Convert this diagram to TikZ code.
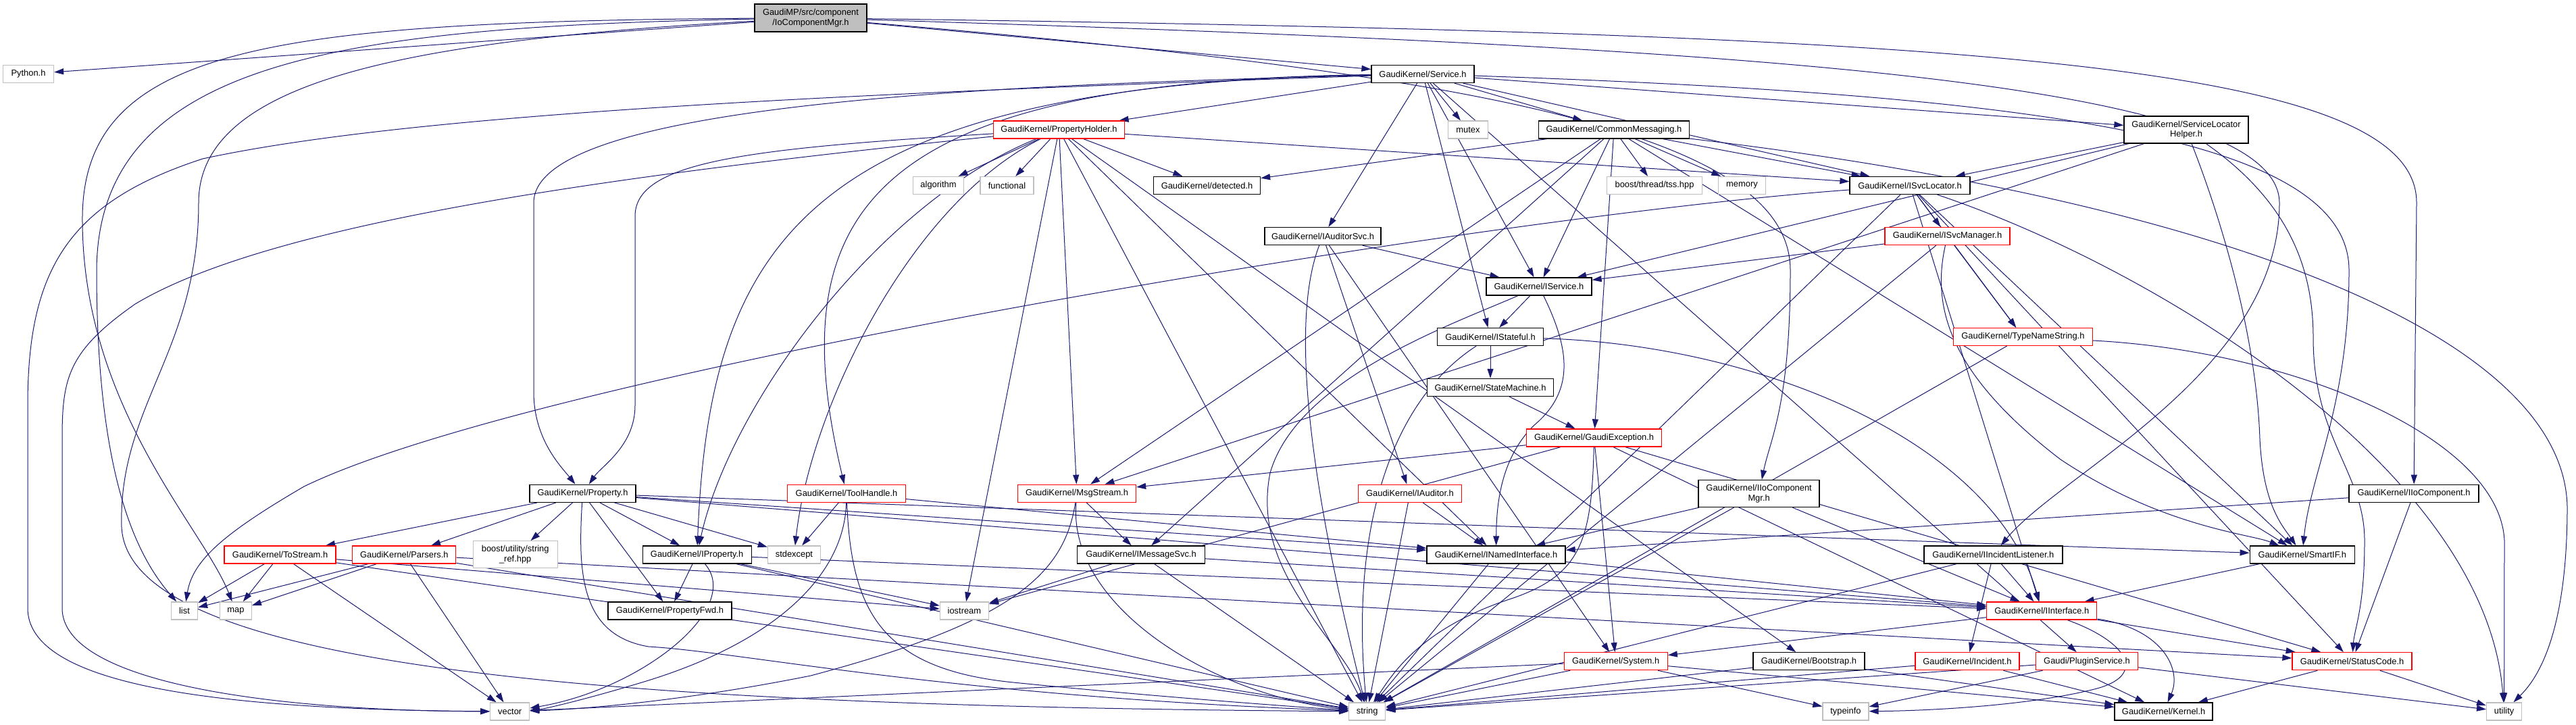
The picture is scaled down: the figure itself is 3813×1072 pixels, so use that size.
\documentclass[tikz,border=0pt]{standalone}
\usepackage{fontspec}
\setmainfont{Liberation Sans}
\usetikzlibrary{arrows.meta}
\pgfdeclarelayer{bg}
\pgfsetlayers{bg,main}
\definecolor{edgecol}{RGB}{25,25,112}
\definecolor{grayb}{RGB}{191,191,191}
\tikzset{
 nd/.style={draw=black, line width=1.3pt, fill=white, inner sep=0pt, minimum height=26pt, font=\fontsize{12.9}{14.5}\selectfont, align=center},
 rednd/.style={nd, draw=red},
 extnd/.style={nd, draw=grayb},
 mainnd/.style={nd, fill=grayb},
 dep/.style={draw=edgecol, line width=1pt, -{Triangle[length=14pt,width=9pt]}},
}
\begin{document}
\begin{tikzpicture}[x=1pt,y=-1pt]
\useasboundingbox (0,0) rectangle (3813,1072);
% ---------- nodes ----------
\node[mainnd, minimum width=166pt, minimum height=41pt] (main) at (1200,26.5) {GaudiMP/src/component\\/IoComponentMgr.h};
\node[extnd, minimum width=75pt] (py) at (42,109.5) {Python.h};
\node[nd, minimum width=152pt] (svc) at (2106,109.5) {GaudiKernel/Service.h};
\node[rednd, minimum width=194pt] (ph) at (1567.5,192) {GaudiKernel/PropertyHolder.h};
\node[extnd, minimum width=59pt] (mutex) at (2173,192) {mutex};
\node[nd, minimum width=223pt] (cm) at (2389,192) {GaudiKernel/CommonMessaging.h};
\node[nd, minimum width=184pt, minimum height=40pt] (slh) at (3236,192) {GaudiKernel/ServiceLocator\\Helper.h};
\node[extnd, minimum width=75pt] (algorithm) at (1389,274.5) {algorithm};
\node[extnd, minimum width=79pt] (functional) at (1490.5,274.5) {functional};
\node[nd, minimum width=158pt] (detected) at (1786.5,274.5) {GaudiKernel/detected.h};
\node[extnd, minimum width=141pt] (tss) at (2449,274.5) {boost/thread/tss.hpp};
\node[extnd, minimum width=70pt] (memory) at (2578.5,274.5) {memory};
\node[nd, minimum width=178pt] (isvcloc) at (2827,274.5) {GaudiKernel/ISvcLocator.h};
\node[nd, minimum width=172pt] (iaudsvc) at (1958,349.5) {GaudiKernel/IAuditorSvc.h};
\node[rednd, minimum width=185pt] (isvcmgr) at (2882.5,349.5) {GaudiKernel/ISvcManager.h};
\node[nd, minimum width=156pt] (iservice) at (2278,424) {GaudiKernel/IService.h};
\node[nd, minimum width=157pt] (istateful) at (2206,498.5) {GaudiKernel/IStateful.h};
\node[rednd, minimum width=206pt] (tns) at (2994.4,498.5) {GaudiKernel/TypeNameString.h};
\node[nd, minimum width=187pt] (statemachine) at (2206,573.5) {GaudiKernel/StateMachine.h};
\node[rednd, minimum width=200pt] (gexc) at (2359.6,648) {GaudiKernel/GaudiException.h};
\node[nd, minimum width=157pt] (property) at (862.5,730.3) {GaudiKernel/Property.h};
\node[rednd, minimum width=175pt] (toolhandle) at (1253,730.3) {GaudiKernel/ToolHandle.h};
\node[rednd, minimum width=175pt] (msgstream) at (1594,730.3) {GaudiKernel/MsgStream.h};
\node[rednd, minimum width=153pt] (iauditor) at (2087,730.3) {GaudiKernel/IAuditor.h};
\node[nd, minimum width=179pt, minimum height=40pt] (iiocm) at (2603.6,730.5) {GaudiKernel/IIoComponent\\Mgr.h};
\node[nd, minimum width=192pt] (iioc) at (3573,730.3) {GaudiKernel/IIoComponent.h};
\node[rednd, minimum width=165pt] (tostream) at (414.6,821) {GaudiKernel/ToStream.h};
\node[rednd, minimum width=153pt] (parsers) at (598.3,821) {GaudiKernel/Parsers.h};
\node[extnd, minimum width=125pt, minimum height=40pt] (stringref) at (762.7,820.8) {boost/utility/string\\\_ref.hpp};
\node[nd, minimum width=161pt] (iproperty) at (1031.7,821) {GaudiKernel/IProperty.h};
\node[extnd, minimum width=78pt] (stdexcept) at (1175.4,821) {stdexcept};
\node[nd, minimum width=189pt] (imsgsvc) at (1689,821) {GaudiKernel/IMessageSvc.h};
\node[nd, minimum width=205pt] (inamed) at (2214.5,821) {GaudiKernel/INamedInterface.h};
\node[nd, minimum width=205pt] (iil) at (2950.4,821) {GaudiKernel/IIncidentListener.h};
\node[nd, minimum width=155pt] (smartif) at (3407.7,821) {GaudiKernel/SmartIF.h};
\node[extnd, minimum width=39pt] (list) at (273,904) {list};
\node[extnd, minimum width=46.5pt] (map) at (349,904) {map};
\node[nd, minimum width=183pt] (propfwd) at (991.5,904) {GaudiKernel/PropertyFwd.h};
\node[extnd, minimum width=72pt] (iostream) at (1427.4,904) {iostream};
\node[rednd, minimum width=163pt] (iinterface) at (3022.3,904) {GaudiKernel/IInterface.h};
\node[rednd, minimum width=153pt] (system) at (2391.7,978.7) {GaudiKernel/System.h};
\node[nd, minimum width=165pt] (bootstrap) at (2677.4,978.7) {GaudiKernel/Bootstrap.h};
\node[rednd, minimum width=154pt] (incident) at (2912,978.7) {GaudiKernel/Incident.h};
\node[rednd, minimum width=151pt] (plugin) at (3089,978.7) {Gaudi/PluginService.h};
\node[rednd, minimum width=177pt] (statuscode) at (3481.5,978.7) {GaudiKernel/StatusCode.h};
\node[extnd, minimum width=58pt] (vector) at (754.7,1053) {vector};
\node[extnd, minimum width=54pt] (string) at (2023.7,1053) {string};
\node[extnd, minimum width=68pt] (typeinfo) at (2731.9,1053) {typeinfo};
\node[nd, minimum width=145pt] (kernel) at (3202.6,1053) {GaudiKernel/Kernel.h};
\node[extnd, minimum width=52pt] (utility) at (3706.6,1053) {utility};
% ---------- edges ----------
\begin{pgfonlayer}{bg}
\fill[white] (0,0) rectangle (3813,1072);
% main
\draw[dep] (main) -- (py);
\draw[dep] (main) .. controls (400,32) and (125,70) .. (122,320) .. controls (120,600) and (300,780) .. (map);
\draw[dep] (main) .. controls (500,40) and (145,90) .. (143,400) .. controls (143,700) and (200,820) .. (list);
\draw[dep] (main) .. controls (600,60) and (294,120) .. (294,300) .. controls (294,520) and (175,600) .. (180,780) .. controls (190,990) and (900,1045) .. (string);
\draw[dep] (main) -- (svc);
\draw[dep] (main) .. controls (2200,110) and (2650,200) .. (2650,400) .. controls (2650,600) and (2620,650) .. (iiocm);
\draw[dep] (main) .. controls (2600,70) and (3372,120) .. (3374,300) .. controls (3374,550) and (3050,700) .. (iil);
\draw[dep] (main) .. controls (2900,50) and (3577,90) .. (3577,300) -- (iioc);
% Service
\draw[dep] (svc) -- (ph);
\draw[dep] (svc) -- (mutex);
\draw[dep] (svc) -- (cm);
\draw[dep] (svc) -- (isvcloc);
\draw[dep] (svc) -- (slh);
\draw[dep] (svc) -- (iaudsvc);
\draw[dep] (svc) -- (iservice);
\draw[dep] (svc) -- (istateful);
\draw[dep] (svc) .. controls (1500,125) and (790,150) .. (790,300) -- (790,580) .. controls (790,650) and (830,690) .. (property);
\draw[dep] (svc) .. controls (1200,125) and (1050,350) .. (iproperty);
\draw[dep] (svc) .. controls (1300,120) and (1150,300) .. (toolhandle);
\draw[dep] (svc) .. controls (3000,140) and (3477,200) .. (3477,400) .. controls (3477,600) and (3420,700) .. (smartif);
\draw[dep] (svc) -- (plugin);
\draw[dep] (svc) .. controls (1200,140) and (600,170) .. (300,235) .. controls (100,300) and (41,400) .. (41,600) -- (41,900) .. controls (41,1010) and (300,1050) .. (vector);
% PropertyHolder
\draw[dep] (ph) -- (algorithm);
\draw[dep] (ph) -- (functional);
\draw[dep] (ph) -- (detected);
\draw[dep] (ph) -- (isvcloc);
\draw[dep] (ph) -- (msgstream);
\draw[dep] (ph) -- (inamed);
\draw[dep] (ph) -- (string);
\draw[dep] (ph) -- (iostream);
\draw[dep] (ph) .. controls (1350,300) and (1200,600) .. (stdexcept);
\draw[dep] (ph) .. controls (1100,220) and (940,240) .. (940,320) -- (940,600) .. controls (940,660) and (890,690) .. (property);
\draw[dep] (ph) .. controls (1300,300) and (1080,600) .. (iproperty);
\draw[dep] (ph) .. controls (900,260) and (400,330) .. (200,450) .. controls (100,520) and (92,560) .. (92,650) -- (92,900) .. controls (92,1010) and (400,1052) .. (vector);
\draw[dep] (ph) -- (bootstrap);
% CommonMessaging
\draw[dep] (cm) -- (detected);
\draw[dep] (cm) -- (tss);
\draw[dep] (cm) -- (memory);
\draw[dep] (cm) -- (isvcloc);
\draw[dep] (cm) -- (iservice);
\draw[dep] (cm) -- (gexc);
\draw[dep] (cm) -- (msgstream);
\draw[dep] (cm) -- (imsgsvc);
\draw[dep] (cm) -- (smartif);
\draw[dep] (cm) .. controls (3300,300) and (3795,500) .. (3800,750) .. controls (3800,950) and (3750,1010) .. (utility);
% ServiceLocatorHelper
\draw[dep] (slh) -- (isvcloc);
\draw[dep] (slh) -- (iservice);
\draw[dep] (slh) -- (msgstream);
\draw[dep] (slh) .. controls (3290,330) and (3340,500) .. (3345,650) .. controls (3350,750) and (3380,780) .. (smartif);
\draw[dep] (slh) .. controls (3390,300) and (3424,400) .. (3424,500) .. controls (3424,650) and (3500,700) .. (3500,800) .. controls (3500,900) and (3485,930) .. (statuscode);
% IAuditorSvc
\draw[dep] (iaudsvc) -- (iservice);
\draw[dep] (iaudsvc) -- (iauditor);
\draw[dep] (iaudsvc) -- (system);
\draw[dep] (iaudsvc) .. controls (1900,500) and (1960,800) .. (string);
% ISvcLocator
\draw[dep] (isvcloc) .. controls (2200,320) and (800,550) .. (450,720) .. controls (330,790) and (285,830) .. (list);
\draw[dep] (isvcloc) -- (string);
\draw[dep] (isvcloc) -- (isvcmgr);
\draw[dep] (isvcloc) -- (tns);
\draw[dep] (isvcloc) -- (iinterface);
\draw[dep] (isvcloc) -- (smartif);
\draw[dep] (isvcloc) -- (statuscode);
\draw[dep] (isvcloc) .. controls (3200,400) and (3680,700) .. (utility);
% ISvcManager
\draw[dep] (isvcmgr) -- (iservice);
\draw[dep] (isvcmgr) -- (tns);
\draw[dep] (isvcmgr) -- (string);
\draw[dep] (isvcmgr) .. controls (2860,450) and (2880,550) .. (3050,680) .. controls (3200,780) and (3330,790) .. (smartif);
% IService
\draw[dep] (iservice) -- (istateful);
\draw[dep] (iservice) .. controls (2325,520) and (2330,580) .. (2270,630) .. controls (2220,680) and (2215,750) .. (inamed);
\draw[dep] (iservice) .. controls (2150,480) and (1920,560) .. (1880,700) .. controls (1850,850) and (1990,950) .. (string);
% IStateful
\draw[dep] (istateful) -- (statemachine);
\draw[dep] (istateful) .. controls (2050,600) and (2000,800) .. (string);
\draw[dep] (istateful) .. controls (2600,510) and (2950,650) .. (iinterface);
% TypeNameString
\draw[dep] (tns) -- (string);
\draw[dep] (tns) .. controls (3400,520) and (3700,650) .. (3707,800) -- (utility);
% StateMachine
\draw[dep] (statemachine) -- (gexc);
% GaudiException
\draw[dep] (gexc) -- (msgstream);
\draw[dep] (gexc) -- (iostream);
\draw[dep] (gexc) .. controls (2356,800) and (2340,850) .. (2240,885) .. controls (2100,930) and (2060,1000) .. (string);
\draw[dep] (gexc) -- (system);
\draw[dep] (gexc) -- (statuscode);
\draw[dep] (gexc) -- (kernel);
% Property
\draw[dep] (property) -- (tostream);
\draw[dep] (property) -- (parsers);
\draw[dep] (property) -- (stringref);
\draw[dep] (property) -- (iproperty);
\draw[dep] (property) -- (propfwd);
\draw[dep] (property) -- (stdexcept);
\draw[dep] (property) .. controls (855,850) and (860,940) .. (960,957) .. controls (1100,965) and (1400,1030) .. (string);
\draw[dep] (property) -- (smartif);
\draw[dep] (property) -- (inamed);
\draw[dep] (property) -- (iinterface);
% ToolHandle
\draw[dep] (toolhandle) -- (stdexcept);
\draw[dep] (toolhandle) .. controls (1250,850) and (1150,950) .. (950,1010) .. controls (850,1040) and (800,1050) .. (vector);
\draw[dep] (toolhandle) .. controls (1260,900) and (1300,990) .. (1500,1010) .. controls (1700,1030) and (1900,1045) .. (string);
\draw[dep] (toolhandle) -- (inamed);
% MsgStream
\draw[dep] (msgstream) -- (imsgsvc);
\draw[dep] (msgstream) .. controls (1575,850) and (1500,920) .. (1200,1000) .. controls (1000,1040) and (850,1050) .. (vector);
\draw[dep] (msgstream) .. controls (1580,900) and (1800,1030) .. (string);
% IAuditor
\draw[dep] (iauditor) -- (inamed);
\draw[dep] (iauditor) -- (string);
% IIoComponentMgr
\draw[dep] (iiocm) -- (inamed);
\draw[dep] (iiocm) -- (string);
\draw[dep] (iiocm) -- (iinterface);
% IIoComponent
\draw[dep] (iioc) -- (inamed);
\draw[dep] (iioc) -- (statuscode);
% ToStream
\draw[dep] (tostream) -- (list);
\draw[dep] (tostream) -- (map);
\draw[dep] (tostream) -- (vector);
\draw[dep] (tostream) -- (string);
\draw[dep] (tostream) -- (iostream);
% Parsers
\draw[dep] (parsers) -- (list);
\draw[dep] (parsers) -- (map);
\draw[dep] (parsers) -- (vector);
\draw[dep] (parsers) -- (string);
\draw[dep] (parsers) -- (statuscode);
% IProperty
\draw[dep] (iproperty) -- (propfwd);
\draw[dep] (iproperty) .. controls (1100,900) and (950,1020) .. (vector);
\draw[dep] (iproperty) -- (string);
\draw[dep] (iproperty) -- (iostream);
\draw[dep] (iproperty) -- (iinterface);
% IMessageSvc
\draw[dep] (imsgsvc) -- (iostream);
\draw[dep] (imsgsvc) -- (string);
\draw[dep] (imsgsvc) -- (iinterface);
% INamedInterface
\draw[dep] (inamed) -- (iinterface);
\draw[dep] (inamed) -- (string);
% IIncidentListener
\draw[dep] (iil) -- (iinterface);
\draw[dep] (iil) -- (incident);
\draw[dep] (iil) -- (string);
% SmartIF
\draw[dep] (smartif) -- (iinterface);
% IInterface
\draw[dep] (iinterface) -- (system);
\draw[dep] (iinterface) -- (statuscode);
\draw[dep] (iinterface) .. controls (3200,930) and (3230,990) .. (kernel);
\draw[dep] (iinterface) .. controls (3150,950) and (3180,1000) .. (3100,1020) .. controls (3000,1045) and (2850,1052) .. (typeinfo);
% System
\draw[dep] (system) -- (vector);
\draw[dep] (system) -- (string);
\draw[dep] (system) -- (typeinfo);
\draw[dep] (system) -- (kernel);
% Bootstrap, Incident, PluginService, StatusCode
\draw[dep] (bootstrap) -- (string);
\draw[dep] (bootstrap) -- (kernel);
\draw[dep] (incident) -- (string);
\draw[dep] (incident) -- (kernel);
\draw[dep] (plugin) -- (string);
\draw[dep] (plugin) -- (typeinfo);
\draw[dep] (plugin) -- (utility);
\draw[dep] (statuscode) -- (kernel);
\draw[dep] (statuscode) -- (utility);
\end{pgfonlayer}
\end{tikzpicture}
\end{document}
